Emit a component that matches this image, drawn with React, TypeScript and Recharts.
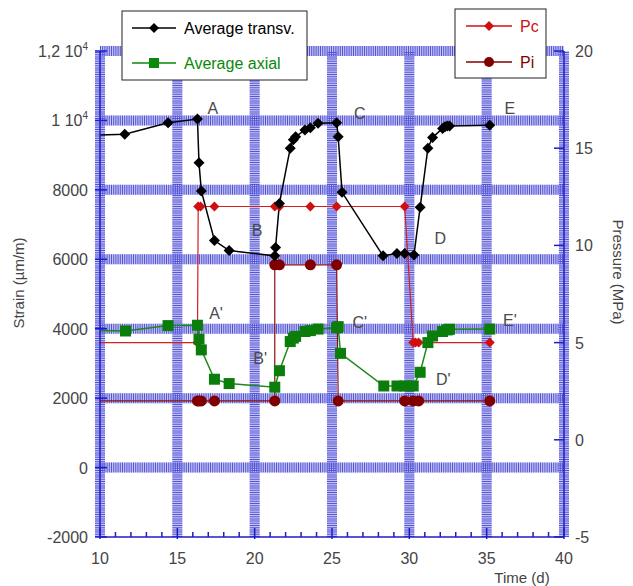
import React from "react";
import { LineChart, Line, XAxis, YAxis, ReferenceLine, ReferenceDot } from "recharts";

// transverse strain (µm/m) vs time (d)
const transvDays = [10, 11.6, 14.4, 16.3, 16.4, 16.55, 17.4, 18.35, 21.3, 21.35, 21.6, 22.3, 22.5, 22.65, 23.25, 23.6, 24.1, 25.3, 25.4, 25.65, 28.3, 29.2, 29.7, 30.3, 30.7, 31.2, 31.5, 32.15, 32.3, 32.45, 32.6, 35.2];
const transvStrain = [9580, 9600, 9935, 10040, 8780, 7970, 6540, 6250, 6100, 6340, 7610, 9200, 9440, 9530, 9725, 9790, 9920, 9935, 9530, 7930, 6100, 6170, 6170, 6125, 7500, 9200, 9510, 9770, 9820, 9840, 9840, 9860];

// axial strain
const axialDays = [10, 11.65, 14.4, 16.3, 16.4, 16.55, 17.4, 18.35, 21.3, 21.6, 22.3, 22.5, 22.65, 23.25, 23.6, 24.1, 25.3, 25.4, 25.55, 28.35, 29.2, 29.7, 30.25, 30.7, 31.2, 31.5, 32.15, 32.45, 32.6, 35.2];
const axialStrain = [3945, 3935, 4090, 4100, 3700, 3390, 2545, 2420, 2315, 2790, 3630, 3730, 3780, 3920, 3945, 3990, 4030, 4060, 3290, 2350, 2350, 2350, 2350, 2745, 3600, 3790, 3920, 3965, 3985, 3990];

// confining pressure Pc (MPa)
const pcDays = [10, 16.3, 16.35, 16.5, 17.4, 21.3, 21.6, 23.6, 25.3, 29.7, 30.25, 30.4, 30.6, 35.2];
const pcValues = [5, 5, 12, 12, 12, 12, 12, 12, 12, 12, 5, 5, 5, 5];

// internal pressure Pi (MPa)
const piDays = [10, 16.3, 16.4, 16.55, 17.4, 21.3, 21.3, 21.6, 23.6, 25.3, 25.4, 29.7, 30.25, 30.6, 35.2];
const piValues = [2, 2, 2, 2, 2, 2, 9, 9, 9, 9, 2, 2, 2, 2, 2];

const strainTicks = [-2000, 0, 2000, 4000, 6000, 8000, 10000, 12000];
const pressureTicks = [-5, 0, 5, 10, 15, 20];
const minorDays = Array.from({ length: 31 }, (_, i) => 10 + i);

const gridStrain = [0, 2000, 4000, 6000, 8000, 10000, 12000];
const gridDays = [10, 15, 20, 25, 30, 35, 40];

const stageLabels = [
  { t: "A", x: 17.3, y: 10360 },
  { t: "B", x: 20.15, y: 6845 },
  { t: "C", x: 26.8, y: 10215 },
  { t: "D", x: 32.0, y: 6615 },
  { t: "E", x: 36.5, y: 10360 },
  { t: "A'", x: 17.5, y: 4455 },
  { t: "B'", x: 20.35, y: 3160 },
  { t: "C'", x: 26.8, y: 4195 },
  { t: "D'", x: 32.2, y: 2555 },
  { t: "E'", x: 36.5, y: 4250 },
];

const zip = (xs: number[], ys: number[]) => xs.map((d, i) => ({ day: d, v: ys[i] }));
const transvData = zip(transvDays, transvStrain);
const axialData = zip(axialDays, axialStrain);
const pcData = zip(pcDays, pcValues);
const piData = zip(piDays, piValues);

const FONT = '"Liberation Sans", Arial, sans-serif';
const AXIS_BLUE = "#1c1cc8";
const TXT = "#444";

function makeDot(shape: string, color: string, s: number) {
  return (props: any) => {
    const { cx, cy, index, payload } = props;
    if (payload.day <= 10 || cx == null) return <g key={"d" + index} />;
    if (shape === "diamond")
      return <path key={"d" + index} d={`M${cx},${cy - s}L${cx + s},${cy}L${cx},${cy + s}L${cx - s},${cy}Z`} fill={color} />;
    if (shape === "square")
      return <rect key={"d" + index} x={cx - s} y={cy - s} width={s * 2} height={s * 2} fill={color} />;
    return <circle key={"d" + index} cx={cx} cy={cy} r={s} fill={color} />;
  };
}

const LeftTick = (props: any) => {
  const { x, y, payload } = props;
  const v = payload.value;
  let label: React.ReactNode = String(v);
  if (v === 12000) label = [<tspan key="a">1,2 10</tspan>, <tspan key="b" dy={-7} fontSize={10}>4</tspan>];
  if (v === 10000) label = [<tspan key="a">1 10</tspan>, <tspan key="b" dy={-7} fontSize={10}>4</tspan>];
  return (
    <g>
      <line x1={x - 5} y1={y} x2={x + 7} y2={y} stroke={AXIS_BLUE} strokeWidth={1.5} />
      <text x={x - 12} y={y + 6} textAnchor="end" fontSize={16} fill={TXT} fontFamily={FONT}>{label}</text>
    </g>
  );
};

const RightTick = (props: any) => {
  const { x, y, payload } = props;
  return (
    <g>
      <line x1={x} y1={y} x2={x - 10} y2={y} stroke={AXIS_BLUE} strokeWidth={1.5} />
      <text x={x + 11} y={y + 6} textAnchor="start" fontSize={16} fill={TXT} fontFamily={FONT}>{payload.value}</text>
    </g>
  );
};

const BottomTick = (props: any) => {
  const { x, y, payload } = props;
  const major = payload.value % 5 === 0;
  return (
    <g>
      <line x1={x} y1={y + (major ? 2 : 0)} x2={x} y2={y - (major ? 9 : 5)} stroke={AXIS_BLUE} strokeWidth={1.5} />
      {major && (
        <text x={x} y={y + 27} textAnchor="middle" fontSize={16} fill={TXT} fontFamily={FONT}>{payload.value}</text>
      )}
    </g>
  );
};

function LegendRow({ y, color, marker, label, x0, len }: any) {
  const mx = x0 + len / 2;
  return (
    <g>
      <line x1={x0} y1={y} x2={x0 + len} y2={y} stroke={color} strokeWidth={1.3} />
      {marker === "diamond" && <path d={`M${mx},${y - 5}L${mx + 5},${y}L${mx},${y + 5}L${mx - 5},${y}Z`} fill={color} />}
      {marker === "square" && <rect x={mx - 5} y={y - 5} width={10} height={10} fill={color} />}
      {marker === "circle" && <circle cx={mx} cy={y} r={5} fill={color} />}
      <text x={x0 + len + 8} y={y + 6} fontSize={16} fill={color} fontFamily={FONT}>{label}</text>
    </g>
  );
}

export default function App() {
  const bandLight = "#c4c4f2";
  const bandDark = "#5454d8";
  return (
    <div style={{ position: "absolute", left: 0, top: 0, width: 633, height: 586, background: "#fff", fontFamily: FONT }}>
      <LineChart width={633} height={586} margin={{ top: 51, right: 0, bottom: 0, left: 0 }}>
        <XAxis
          dataKey="day"
          type="number"
          domain={[10, 40]}
          ticks={minorDays}
          interval={0}
          height={49}
          tickLine={false}
          tickSize={0}
          tickMargin={0}
          axisLine={{ stroke: AXIS_BLUE, strokeWidth: 1.5 }}
          tick={<BottomTick />}
          allowDuplicatedCategory={false}
        />
        <YAxis
          yAxisId="left"
          type="number"
          domain={[-2000, 12000]}
          ticks={strainTicks}
          interval={0}
          width={100}
          tickLine={false}
          tickSize={0}
          tickMargin={0}
          axisLine={{ stroke: AXIS_BLUE, strokeWidth: 1.5 }}
          tick={<LeftTick />}
        />
        <YAxis
          yAxisId="right"
          orientation="right"
          type="number"
          domain={[-5, 20]}
          ticks={pressureTicks}
          interval={0}
          width={69}
          tickLine={false}
          tickSize={0}
          tickMargin={0}
          axisLine={{ stroke: AXIS_BLUE, strokeWidth: 1.5 }}
          tick={<RightTick />}
        />
        {gridStrain.map((g) => (
          <ReferenceLine key={"hl" + g} yAxisId="left" y={g} stroke={bandLight} strokeWidth={10} />
        ))}
        {gridDays.map((g) => (
          <ReferenceLine key={"vl" + g} yAxisId="left" x={g} stroke={bandLight} strokeWidth={10} />
        ))}
        {gridStrain.map((g) => (
          <ReferenceLine key={"hd" + g} yAxisId="left" y={g} stroke={bandDark} strokeWidth={10} strokeDasharray="1 1.2" />
        ))}
        {gridDays.map((g) => (
          <ReferenceLine key={"vd" + g} yAxisId="left" x={g} stroke={bandDark} strokeWidth={10} strokeDasharray="1 1.2" />
        ))}
        <Line yAxisId="right" data={pcData} dataKey="v" stroke="#d42020" strokeWidth={1.2} dot={makeDot("diamond", "#d01010", 5)} activeDot={false} isAnimationActive={false} />
        <Line yAxisId="right" data={piData} dataKey="v" stroke="#8a1010" strokeWidth={1.2} dot={makeDot("circle", "#800000", 5.5)} activeDot={false} isAnimationActive={false} />
        <Line yAxisId="left" data={axialData} dataKey="v" stroke="#1a8a1a" strokeWidth={1.5} dot={makeDot("square", "#0a7d0a", 5.5)} activeDot={false} isAnimationActive={false} />
        <Line yAxisId="left" data={transvData} dataKey="v" stroke="#000" strokeWidth={1.5} dot={makeDot("diamond", "#000", 5.5)} activeDot={false} isAnimationActive={false} />
        {stageLabels.map((s) => (
          <ReferenceDot
            key={"lab" + s.t}
            yAxisId="left"
            x={s.x}
            y={s.y}
            r={0}
            stroke="none"
            label={{ value: s.t, position: "center", fill: "#4a4a4a", fontSize: 16, fontFamily: FONT }}
          />
        ))}
      </LineChart>
      <svg width={633} height={586} style={{ position: "absolute", left: 0, top: 0, pointerEvents: "none" }}>
        <rect x={122} y={11} width={185} height={69} fill="#fff" stroke="#222" strokeWidth={1} />
        <LegendRow y={28} color="#000" marker="diamond" label="Average transv." x0={132} len={44} />
        <LegendRow y={63} color="#0a8a0a" marker="square" label="Average axial" x0={132} len={44} />
        <rect x={455} y={9} width={91} height={69} fill="#fff" stroke="#222" strokeWidth={1} />
        <LegendRow y={26} color="#d01010" marker="diamond" label="Pc" x0={466} len={46} />
        <LegendRow y={62} color="#800000" marker="circle" label="Pi" x0={466} len={46} />
        <text transform="translate(24,283) rotate(-90)" textAnchor="middle" fontSize={15} fill={TXT} fontFamily={FONT}>Strain (µm/m)</text>
        <text transform="translate(613,272) rotate(90)" textAnchor="middle" fontSize={15} fill={TXT} fontFamily={FONT}>Pressure (MPa)</text>
        <text x={522} y={583} textAnchor="middle" fontSize={15} fill={TXT} fontFamily={FONT}>Time (d)</text>
      </svg>
    </div>
  );
}
